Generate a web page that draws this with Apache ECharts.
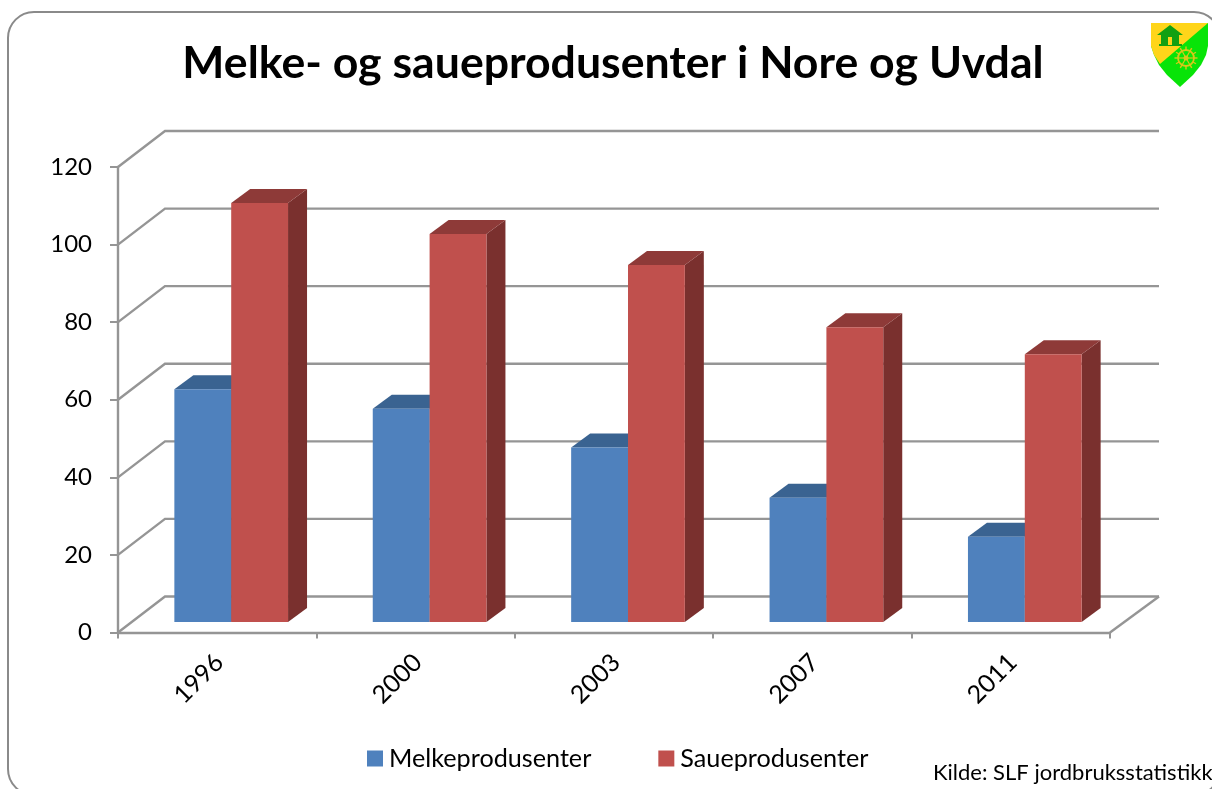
<!DOCTYPE html>
<html>
<head>
<meta charset="utf-8">
<title>Melke- og saueprodusenter i Nore og Uvdal</title>
<script src="https://cdn.jsdelivr.net/npm/echarts@6/dist/echarts.min.js"></script>
<style>
html, body { margin: 0; padding: 0; background: #fff; overflow: hidden; }
#chart { width: 1212px; height: 789px; }
</style>
</head>
<body>
<div id="chart"></div>
<script>
var years = ['1996', '2000', '2003', '2007', '2011'];
var melk = [60, 55, 45, 32, 22];
var saue = [108, 100, 92, 76, 69];
var yTicks = [0, 20, 40, 60, 80, 100, 120];

var font = 'Lato, "Open Sans", sans-serif';
var gridColor = '#959595';
var chart = echarts.init(document.getElementById('chart'));

// back wall and floor of the fake 3d box
function renderWall(params, api) {
  var sys = params.coordSys;
  var y = api.coord([0, api.value(0)])[1];
  var left = sys.x, right = sys.x + sys.width;
  var lineStyle = { stroke: gridColor, lineWidth: 2.4, fill: null };
  var children = [{
    type: 'polyline',
    shape: { points: [[left, y], [left + 47, y - 36], [right + 49, y - 36]] },
    style: lineStyle
  }];
  if (api.value(0) === 0) {
    children.push({
      type: 'line',
      shape: { x1: right, y1: y, x2: right + 49, y2: y - 36 },
      style: lineStyle
    });
  }
  return { type: 'group', children: children };
}

// shift: 0 for the left bar of a pair, 1 for the right one
function barRenderer(shift, front, top, side) {
  return function (params, api) {
    var idx = api.value(0);
    var w = api.size([1, 0])[0] * 0.2865;
    var c = api.coord([idx, api.value(1)]);
    var base = api.coord([idx, 0]);
    var x = c[0] + 14 - w + shift * w;
    var yt = c[1] - 10.5, yb = base[1] - 10.5;
    return {
      type: 'group',
      children: [
        { type: 'polygon', shape: { points: [[x + w, yt], [x + w + 19, yt - 14], [x + w + 19, yb - 14], [x + w, yb]] }, style: { fill: side } },
        { type: 'polygon', shape: { points: [[x, yt], [x + 19, yt - 14], [x + w + 19, yt - 14], [x + w, yt]] }, style: { fill: top } },
        { type: 'rect', shape: { x: x, y: yt, width: w, height: yb - yt }, style: { fill: front } }
      ]
    };
  };
}

// wheel in the shield, spokes and teeth
function wheelParts(cx, cy) {
  var parts = [];
  for (var a = 0; a < 6; a++) {
    var t = a * Math.PI / 3;
    parts.push({ type: 'line', shape: { x1: cx, y1: cy, x2: cx + 8 * Math.cos(t), y2: cy + 8 * Math.sin(t) }, style: { stroke: '#d8c81a', lineWidth: 1.2 } });
  }
  for (var b = 0; b < 12; b++) {
    var u = b * Math.PI / 6;
    parts.push({ type: 'line', shape: { x1: cx + 8 * Math.cos(u), y1: cy + 8 * Math.sin(u), x2: cx + 11.5 * Math.cos(u), y2: cy + 11.5 * Math.sin(u) }, style: { stroke: '#d8c81a', lineWidth: 1.4 } });
  }
  parts.push({ type: 'circle', shape: { cx: cx, cy: cy, r: 8 }, style: { fill: null, stroke: '#d8c81a', lineWidth: 1.8 } });
  parts.push({ type: 'circle', shape: { cx: cx, cy: cy, r: 2.5 }, style: { fill: '#d8c81a' } });
  return parts;
}

chart.setOption({
  animation: false,
  backgroundColor: '#fff',
  title: {
    text: 'Melke- og saueprodusenter i Nore og Uvdal',
    left: 608, top: 36, textAlign: 'center',
    textStyle: { fontFamily: font, fontSize: 44.6, fontWeight: 'bold', color: '#000' }
  },
  legend: {
    left: 367, top: 746, padding: 0,
    itemWidth: 16, itemHeight: 16, itemGap: 67,
    icon: 'rect',
    textStyle: { fontFamily: font, fontSize: 25.2, color: '#000', padding: [0, 0, 0, 1] },
    data: ['Melkeprodusenter', 'Saueprodusenter']
  },
  grid: { left: 118, right: 102, top: 167, bottom: 156.5 },
  xAxis: {
    type: 'category',
    data: years,
    boundaryGap: true,
    axisLine: { lineStyle: { color: gridColor, width: 2.4 } },
    axisTick: { show: true, alignWithLabel: false, length: 6, lineStyle: { color: gridColor, width: 2 } },
    axisLabel: { rotate: 45, margin: 28, fontFamily: font, fontSize: 25, color: '#000', interval: 0, padding: [0, -3, 0, 0] }
  },
  yAxis: {
    type: 'value',
    min: 0, max: 120, interval: 20,
    splitLine: { show: false },
    axisLine: { show: true, lineStyle: { color: gridColor, width: 2.4 } },
    axisTick: { show: true, length: 8, lineStyle: { color: gridColor, width: 2 } },
    axisLabel: { margin: 26, fontFamily: font, fontSize: 24, color: '#000', padding: [4, 0, 0, 0] }
  },
  series: [
    { type: 'custom', name: 'Rutenett', silent: true, z: 1, renderItem: renderWall, data: yTicks.map(function (v) { return [v]; }) },
    {
      type: 'custom', name: 'Melkeprodusenter', z: 2, itemStyle: { color: '#4f81bd' },
      renderItem: barRenderer(0, '#4f81bd', '#3a6391', '#33587f'),
      data: melk.map(function (v, i) { return [i, v]; })
    },
    {
      type: 'custom', name: 'Saueprodusenter', z: 3, itemStyle: { color: '#c0504d' },
      renderItem: barRenderer(1, '#c0504d', '#8e3a38', '#7a302e'),
      data: saue.map(function (v, i) { return [i, v]; })
    }
  ],
  graphic: [
    // outer frame runs off the page at the bottom and right
    { type: 'rect', z: 0, shape: { x: 8, y: 12, width: 1212, height: 783, r: 26 }, style: { fill: null, stroke: '#8a8a8a', lineWidth: 2 } },
    { type: 'text', z: 5, style: { x: 933, y: 762, text: 'Kilde: SLF jordbruksstatistikk', fontFamily: font, fontSize: 22, fill: '#000' } },
    // kommune shield
    {
      type: 'group', z: 5, x: 1151, y: 22,
      children: [
        { type: 'polygon', shape: { points: [[0, 1], [57, 1], [57, 24], [55, 33], [50, 43], [42, 53], [29, 65], [16, 53], [8, 43], [3, 33], [0, 24]] }, style: { fill: '#08e408' } },
        { type: 'polygon', shape: { points: [[0, 1], [57, 1], [9, 42], [3, 33], [0, 24]] }, style: { fill: '#ffd51a' } },
        { type: 'polygon', shape: { points: [[6, 13], [19, 3], [32, 13], [28, 13], [28, 22], [31, 22], [31, 24], [8, 24], [8, 22], [10, 22], [10, 13]] }, style: { fill: '#12a012' } },
        { type: 'rect', shape: { x: 17, y: 15, width: 4, height: 8 }, style: { fill: '#ffd51a' } },
        { type: 'group', children: wheelParts(35, 36) }
      ]
    }
  ]
});
</script>
</body>
</html>
